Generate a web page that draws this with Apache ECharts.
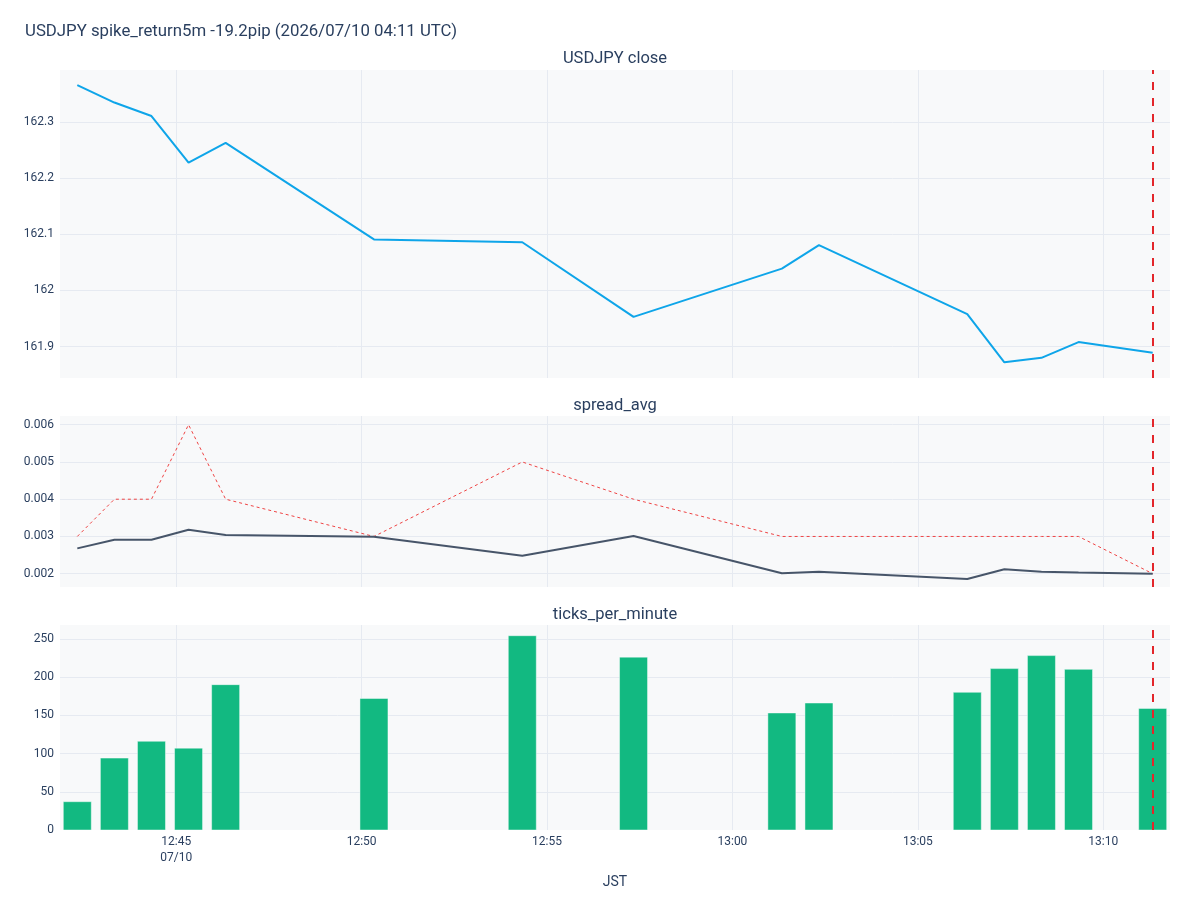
<!DOCTYPE html>
<html>
<head>
<meta charset="utf-8">
<script src="https://cdn.jsdelivr.net/npm/echarts@6/dist/echarts.min.js"></script>
<style>
  html, body { margin: 0; padding: 0; background: #fff; }
  #main { width: 1200px; height: 900px; }
</style>
</head>
<body>
<div id="main"></div>
<script>
var times = [
    '2026-07-10 12:42:20', '2026-07-10 12:43:20', '2026-07-10 12:44:20',
    '2026-07-10 12:45:20', '2026-07-10 12:46:20', '2026-07-10 12:50:20',
    '2026-07-10 12:54:20', '2026-07-10 12:57:20', '2026-07-10 13:01:20',
    '2026-07-10 13:02:20', '2026-07-10 13:06:20', '2026-07-10 13:07:20',
    '2026-07-10 13:08:20', '2026-07-10 13:09:20', '2026-07-10 13:11:20'
];
var closeVals = [162.366, 162.335, 162.311, 162.228, 162.263, 162.091, 162.086, 161.953,
    162.039, 162.081, 161.958, 161.872, 161.880, 161.908, 161.889];
var spreadAvg = [0.00268, 0.00291, 0.00291, 0.00318, 0.00304, 0.00299, 0.00248, 0.00301,
    0.00201, 0.00205, 0.00186, 0.00212, 0.00205, 0.00203, 0.00200];
var spreadMax = [0.003, 0.004, 0.004, 0.006, 0.004, 0.003, 0.005, 0.004,
    0.003, 0.003, 0.003, 0.003, 0.003, 0.003, 0.002];
var ticksPerMin = [37, 94, 116, 107, 190, 172, 254, 226, 153, 166, 180, 211, 228, 210, 159];

var spikeTime = times[times.length - 1];
var xMin = '2026-07-10 12:41:52';
var xMax = '2026-07-10 13:11:48';

var FONT = 'Roboto';
var TXT = '#2a3f5f';
var GRID_BG = '#f8f9fa';
var GRID_LINE = '#e6eaf1';
var BAR_W = 28;

function pairs(vals) {
    return times.map(function (t, i) { return [t, vals[i]]; });
}

var spikeLine = {
    silent: true,
    symbol: 'none',
    label: { show: false },
    lineStyle: { color: '#e3262b', type: [8, 8], width: 2 },
    data: [{ xAxis: spikeTime }]
};

// first 5-minute mark inside the range gets the date under it
var FIVE = 5 * 60 * 1000;
var firstMark = Math.ceil(new Date(xMin.replace(' ', 'T')).getTime() / FIVE) * FIVE;

function xLabel(v) {
    var d = new Date(v);
    if (d.getSeconds() !== 0 || d.getMinutes() % 5 !== 0) return '';
    var s = ('0' + d.getHours()).slice(-2) + ':' + ('0' + d.getMinutes()).slice(-2);
    if (v === firstMark) {
        s += '\n' + ('0' + (d.getMonth() + 1)).slice(-2) + '/' + ('0' + d.getDate()).slice(-2);
    }
    return s;
}

function xAxisCfg(idx, showLabels) {
    return {
        type: 'time',
        gridIndex: idx,
        min: xMin,
        max: xMax,
        splitNumber: 5,
        axisLine: { show: false },
        axisTick: { show: false },
        axisLabel: {
            show: showLabels,
            interval: 0,
            color: TXT,
            fontFamily: FONT,
            fontSize: 12,
            margin: 4,
            lineHeight: 16,
            showMinLabel: false,
            showMaxLabel: false,
            formatter: xLabel
        },
        splitLine: { show: true, showMinLine: false, showMaxLine: false, lineStyle: { color: GRID_LINE, width: 1 } },
        name: showLabels ? 'JST' : '',
        nameLocation: 'middle',
        nameGap: 45,
        nameTextStyle: { color: TXT, fontFamily: FONT, fontSize: 14 }
    };
}

function yAxisCfg(idx, min, max, extra) {
    var ax = {
        type: 'value',
        gridIndex: idx,
        min: min,
        max: max,
        axisLine: { show: false },
        axisTick: { show: false },
        axisLabel: {
            color: TXT, fontFamily: FONT, fontSize: 12, margin: 6,
            showMinLabel: false, showMaxLabel: false
        },
        splitLine: { show: true, showMinLine: false, showMaxLine: false, lineStyle: { color: GRID_LINE, width: 1 } }
    };
    if (extra) {
        for (var k in extra) ax[k] = extra[k];
    }
    return ax;
}

function renderBar(params, api) {
    var top = api.coord([api.value(0), api.value(1)]);
    var base = api.coord([api.value(0), 0]);
    return {
        type: 'rect',
        shape: { x: top[0] - BAR_W / 2, y: top[1], width: BAR_W, height: base[1] - top[1] },
        style: { fill: '#12b981', stroke: 'rgba(255,255,255,0.45)', lineWidth: 1 }
    };
}

var chart = echarts.init(document.getElementById('main'));

var subStyle = { color: TXT, fontFamily: FONT, fontSize: 16.5, fontWeight: 'normal' };

var option = {
    backgroundColor: '#ffffff',
    animation: false,
    title: [
        {
            text: 'USDJPY spike_return5m -19.2pip (2026/07/10 04:11 UTC)',
            left: 25, top: 23, padding: 0,
            textStyle: { color: TXT, fontFamily: FONT, fontSize: 16.8, fontWeight: 'normal' }
        },
        { text: 'USDJPY close', left: 615, top: 50, padding: 0, textAlign: 'center', textStyle: subStyle },
        { text: 'spread_avg', left: 615, top: 397, padding: 0, textAlign: 'center', textStyle: subStyle },
        { text: 'ticks_per_minute', left: 615, top: 606, padding: 0, textAlign: 'center', textStyle: subStyle }
    ],
    grid: [
        { left: 60, right: 30, top: 70, height: 308, show: true, backgroundColor: GRID_BG, borderWidth: 0 },
        { left: 60, right: 30, top: 416, height: 171, show: true, backgroundColor: GRID_BG, borderWidth: 0 },
        { left: 60, right: 30, top: 625, height: 205, show: true, backgroundColor: GRID_BG, borderWidth: 0 }
    ],
    xAxis: [xAxisCfg(0, false), xAxisCfg(1, false), xAxisCfg(2, true)],
    yAxis: [
        yAxisCfg(0, 161.844, 162.393),
        yAxisCfg(1, 0.001643, 0.006234),
        yAxisCfg(2, 0, 268, {
            interval: 50,
            axisLabel: { color: TXT, fontFamily: FONT, fontSize: 12, margin: 6, showMinLabel: true, showMaxLabel: false }
        })
    ],
    series: [
        {
            name: 'close',
            type: 'line',
            xAxisIndex: 0, yAxisIndex: 0,
            data: pairs(closeVals),
            showSymbol: false,
            lineStyle: { color: '#0ea5e9', width: 2 },
            itemStyle: { color: '#0ea5e9' },
            markLine: spikeLine
        },
        {
            name: 'spread_max',
            type: 'line',
            xAxisIndex: 1, yAxisIndex: 1,
            data: pairs(spreadMax),
            showSymbol: false,
            lineStyle: { color: '#ef4444', width: 1, type: [3, 3] },
            itemStyle: { color: '#ef4444' }
        },
        {
            name: 'spread_avg',
            type: 'line',
            xAxisIndex: 1, yAxisIndex: 1,
            data: pairs(spreadAvg),
            showSymbol: false,
            lineStyle: { color: '#475569', width: 2 },
            itemStyle: { color: '#475569' },
            markLine: spikeLine
        },
        {
            name: 'ticks_per_minute',
            type: 'custom',
            xAxisIndex: 2, yAxisIndex: 2,
            data: pairs(ticksPerMin),
            renderItem: renderBar,
            encode: { x: 0, y: 1 },
            markLine: spikeLine
        }
    ]
};

chart.setOption(option);
</script>
</body>
</html>
